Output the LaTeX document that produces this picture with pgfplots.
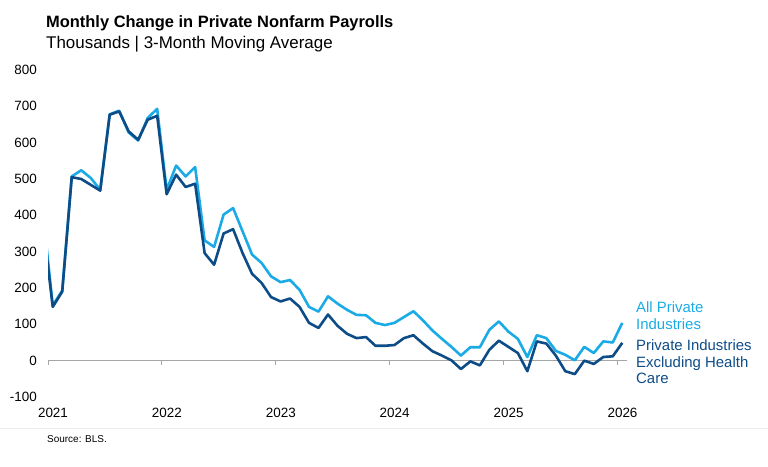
\documentclass[border=0pt]{standalone}
\usepackage{fontspec}
\setmainfont{Liberation Sans}
\usepackage{pgfplots}
\usepackage{pgfplotstable}
\pgfplotsset{compat=1.18}

\definecolor{allpriv}{HTML}{1AABE6}
\definecolor{exhc}{HTML}{0D4C87}
\definecolor{zeroline}{HTML}{A6A6A6}

% t = months after Jan 2021 start (mid-month), all = all private, exhc = excl. health care
\pgfplotstableread{
t     all  exhc
-0.5  400  370
0.5   152  148
1.5   193  190
2.5   507  505
3.5   524  500
4.5   503  484
5.5   470  468
6.5   678  677
7.5   688  686
8.5   628  631
9.5   606  608
10.5  668  663
11.5  693  674
12.5  470  458
13.5  537  512
14.5  507  478
15.5  533  487
16.5  331  296
17.5  313  264
18.5  402  350
19.5  420  362
20.5  356  296
21.5  292  239
22.5  269  214
23.5  232  175
24.5  216  163
25.5  222  171
26.5  195  148
27.5  148  104
28.5  135   90
29.5  177  127
30.5  157   96
31.5  140   74
32.5  126   62
33.5  125   65
34.5  104   41
35.5   98   41
36.5  104   43
37.5  120   62
38.5  136   70
39.5  111   47
40.5   83   26
41.5   60   14
42.5   38    1
43.5   14  -23
44.5   37   -2
45.5   37  -13
46.5   85   30
47.5  108   55
48.5   80   38
49.5   60   21
50.5   10  -29
51.5   70   53
52.5   62   47
53.5   27   14
54.5   16  -29
55.5    1  -37
56.5   38    0
57.5   21   -9
58.5   53   10
59.5   50   12
60.5  104   49
}\payrolls

\begin{document}
\begin{tikzpicture}[x=1bp,y=1bp]
\useasboundingbox (0,0) rectangle (768,467);

\begin{axis}[
    at={(48bp,70bp)}, anchor=south west,
    scale only axis, width=579bp, height=327bp,
    xmin=0, xmax=61, ymin=-100, ymax=800,
    axis line style={draw=none},
    major tick length=0pt,
    xtick={0,12,24,36,48,60},
    xticklabels={2021,2022,2023,2024,2025,2026},
    ytick={-100,0,100,200,300,400,500,600,700,800},
    yticklabels={-100,0,100,200,300,400,500,600,700,800},
    ticklabel style={font=\fontsize{13.5}{16}\selectfont, inner sep=0pt},
    xticklabel style={anchor=base, xshift=5bp, yshift=-21bp},
    yticklabel style={anchor=east, xshift=-11bp},
    clip=true,
]
\draw[zeroline, line width=1bp] (axis cs:0,0) -- (axis cs:61,0);
\pgfplotsinvokeforeach{0,12,24,36,48,60}{
  \draw[zeroline, line width=1bp] (axis cs:#1,0) -- ++(0bp,-4.5bp);
}
\addplot[allpriv, line width=2.6bp, line join=round] table[x=t, y=all] {\payrolls};
\addplot[exhc, line width=2.6bp, line join=round] table[x=t, y=exhc] {\payrolls};
\end{axis}

% titles
\node[anchor=base west, inner sep=0pt, font=\fontsize{16.5}{19}\selectfont\bfseries]
  at (46,439) {Monthly Change in Private Nonfarm Payrolls};
\node[anchor=base west, inner sep=0pt, font=\fontsize{17}{20}\selectfont]
  at (46,418) {Thousands | 3-Month Moving Average};

% series labels
\begin{scope}[every node/.style={anchor=base west, inner sep=0pt, font=\fontsize{15}{17.5}\selectfont}]
\node[text=allpriv] at (636,154) {All Private};
\node[text=allpriv] at (636,137) {Industries};
\node[text=exhc] at (636,116.5) {Private Industries};
\node[text=exhc] at (636,99.5) {Excluding Health};
\node[text=exhc] at (636,83) {Care};
\end{scope}

% footer
\draw[black!8, line width=1bp] (0,38) -- (768,38);
\node[anchor=base west, inner sep=0pt, font=\fontsize{10}{12}\selectfont]
  at (47,24) {Source: BLS.};
\end{tikzpicture}
\end{document}
